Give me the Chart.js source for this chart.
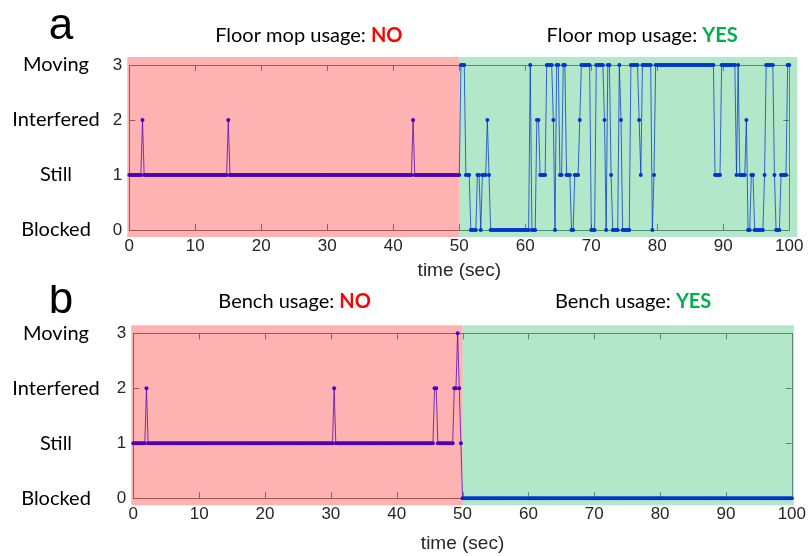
<!DOCTYPE html>
<html>
<head>
<meta charset="utf-8">
<script src="https://cdn.jsdelivr.net/npm/chart.js@4.4.1/dist/chart.umd.min.js"></script>
<style>
  html, body { margin: 0; padding: 0; background: #fff; }
  #wrap { position: relative; width: 812px; height: 556px; }
  canvas { position: absolute; left: 0; }
</style>
</head>
<body>
<div id="wrap">
  <canvas id="chartA" width="812" height="285" style="top:0"></canvas>
  <canvas id="chartB" width="812" height="271" style="top:285px"></canvas>
</div>
<script>
// ------- DATA -------
const stateNames = ["Blocked", "Still", "Interfered", "Moving"];
const stateTicks = [0, 1, 2, 3];
const timeTicks = [0, 10, 20, 30, 40, 50, 60, 70, 80, 90, 100];
const sampleStep = 0.25;   // seconds between samples
const switchTime = 50;     // tool picked up here

// one digit per sample, each line is 10 s (4 groups of 2.5 s)
const mopStates = [
  "1111111121 1111111111 1111111111 1111111111",
  "1111111111 1111111111 2111111111 1111111111",
  "1111111111 1111111111 1111111111 1111111111",
  "1111111111 1111111111 1111111111 1111111111",
  "1111111111 1121111111 1111111111 1111111111",
  "1333111000 0110111210 0000000000 0000000000",
  "0003000221 1113333203 3113311100 1112333333",
  "0003333320 3310000320 0000333332 1333333013",
  "3333333333 3333333333 3333333333 3333311113",
  "3333333313 1111200110 0000013333 3100011113",
  "3"
].join("").replace(/\s/g, "");

const benchStates = [
  "1111111121 1111111111 1111111111 1111111111",
  "1111111111 1111111111 1111111111 1111111111",
  "1111111111 1111111111 1111111111 1111111111",
  "1121111111 1111111111 1111111111 1111111111",
  "1111111111 1111111111 1112211111 1111122321",
  "0000000000 0000000000 0000000000 0000000000",
  "0000000000 0000000000 0000000000 0000000000",
  "0000000000 0000000000 0000000000 0000000000",
  "0000000000 0000000000 0000000000 0000000000",
  "0000000000 0000000000 0000000000 0000000000",
  "0"
].join("").replace(/\s/g, "");

function toPoints(states) {
  return states.split("").map((c, i) => ({ x: i * sampleStep, y: Number(c) }));
}

// ------- DRAWING HELPERS -------
const LABEL_FONT = "Lato, 'Open Sans', sans-serif";
const AXIS_FONT = "'Liberation Sans', Arial, sans-serif";

function drawTitle(ctx, cx, cy, text, answer, color) {
  ctx.font = "20px " + LABEL_FONT;
  const w1 = ctx.measureText(text).width;
  ctx.font = "bold 20px " + LABEL_FONT;
  const w2 = ctx.measureText(answer).width;
  const x = cx - (w1 + w2) / 2;
  ctx.textAlign = "left";
  ctx.textBaseline = "middle";
  ctx.font = "20px " + LABEL_FONT;
  ctx.fillStyle = "#000";
  ctx.fillText(text, x, cy);
  ctx.font = "bold 20px " + LABEL_FONT;
  ctx.fillStyle = color;
  ctx.fillText(answer, x + w1, cy);
}

function panelPlugin(p) {
  return {
    id: "panel",
    beforeDatasetsDraw(chart) {
      const { ctx } = chart;
      const xs = chart.scales.x, ys = chart.scales.y;
      const l = xs.getPixelForValue(0), r = xs.getPixelForValue(100);
      const t = ys.getPixelForValue(3), b = ys.getPixelForValue(0);
      ctx.save();
      ctx.strokeStyle = "#7a7a7a";
      ctx.lineWidth = 1;
      ctx.strokeRect(Math.round(l) + 0.5, Math.round(t) + 0.5, Math.round(r - l), Math.round(b - t));
      ctx.beginPath();
      timeTicks.forEach(v => {
        const px = Math.round(xs.getPixelForValue(v)) + 0.5;
        ctx.moveTo(px, b); ctx.lineTo(px, b - 6);
        ctx.moveTo(px, t); ctx.lineTo(px, t + 6);
      });
      stateTicks.forEach(v => {
        const py = Math.round(ys.getPixelForValue(v)) + 0.5;
        ctx.moveTo(l, py); ctx.lineTo(l + 6, py);
        ctx.moveTo(r, py); ctx.lineTo(r - 6, py);
      });
      ctx.stroke();
      ctx.restore();
    },
    afterDatasetsDraw(chart) {
      const { ctx } = chart;
      const xs = chart.scales.x, ys = chart.scales.y;
      const l = xs.getPixelForValue(0), r = xs.getPixelForValue(100);
      const m = xs.getPixelForValue(switchTime);
      const t = ys.getPixelForValue(3), b = ys.getPixelForValue(0);
      ctx.save();
      // shaded periods go over the trace, which tints it
      ctx.fillStyle = "rgba(255,0,0,0.3)";
      ctx.fillRect(l - 2, t - 8, m - l + 2, b - t + 15);
      ctx.fillStyle = "rgba(0,176,80,0.3)";
      ctx.fillRect(m, t - 8, r - m + p.extR, b - t + 15);

      // state names beside the numeric ticks
      ctx.font = "20px " + LABEL_FONT;
      ctx.fillStyle = "#000";
      ctx.textAlign = "center";
      ctx.textBaseline = "middle";
      stateTicks.forEach(v => ctx.fillText(stateNames[v], 56, ys.getPixelForValue(v)));

      drawTitle(ctx, xs.getPixelForValue(p.noAt), p.titleY, p.tool + " usage: ", "NO", "#ff0000");
      drawTitle(ctx, xs.getPixelForValue(p.yesAt), p.titleY, p.tool + " usage: ", "YES", "#00b050");

      ctx.font = "44px " + AXIS_FONT;
      ctx.fillStyle = "#000";
      ctx.textAlign = "center";
      ctx.textBaseline = "middle";
      ctx.fillText(p.letter, 61, p.letterY);
      ctx.restore();
    }
  };
}

function makePanel(canvasId, states, p) {
  const ctx = document.getElementById(canvasId).getContext("2d");
  return new Chart(ctx, {
    type: "line",
    data: {
      datasets: [{
        data: toPoints(states),
        borderColor: "rgba(0,0,255,0.75)",
        borderWidth: 1,
        pointRadius: 2,
        pointBorderWidth: 0,
        pointBackgroundColor: "#0000ff",
        tension: 0,
        clip: false
      }]
    },
    options: {
      responsive: false,
      animation: false,
      devicePixelRatio: 1,
      layout: { padding: p.padding },
      plugins: { legend: { display: false }, tooltip: { enabled: false } },
      scales: {
        x: {
          type: "linear", min: 0, max: 100,
          grid: { display: false, drawTicks: false },
          border: { display: false },
          ticks: {
            stepSize: 10, autoSkip: false, maxRotation: 0, padding: 6,
            color: "#262626", font: { family: AXIS_FONT, size: 17 }
          },
          title: {
            display: true, text: "time (sec)", color: "#262626", padding: { top: 3, bottom: 0 },
            font: { family: AXIS_FONT, size: 19 }
          },
          afterFit: s => { s.height = p.xHeight; }
        },
        y: {
          min: 0, max: 3,
          grid: { display: false, drawTicks: false },
          border: { display: false },
          ticks: {
            stepSize: 1, padding: 7,
            color: "#262626", font: { family: AXIS_FONT, size: 17 }
          },
          afterFit: s => { s.width = p.yWidth; }
        }
      }
    },
    plugins: [panelPlugin(p)]
  });
}

makePanel("chartA", mopStates, {
  tool: "Floor mop", letter: "a", letterY: 27, titleY: 36, noAt: 27.2, yesAt: 77.7, extR: 8,
  yWidth: 129.3, xHeight: 52, padding: { top: 65, left: 0, right: 22.7, bottom: 3 }
});
makePanel("chartB", benchStates, {
  tool: "Bench", letter: "b", letterY: 16, titleY: 17, noAt: 24.5, yesAt: 75.9, extR: 2,
  yWidth: 133.3, xHeight: 57, padding: { top: 48.3, left: 0, right: 19, bottom: 0.7 }
});
</script>
</body>
</html>
